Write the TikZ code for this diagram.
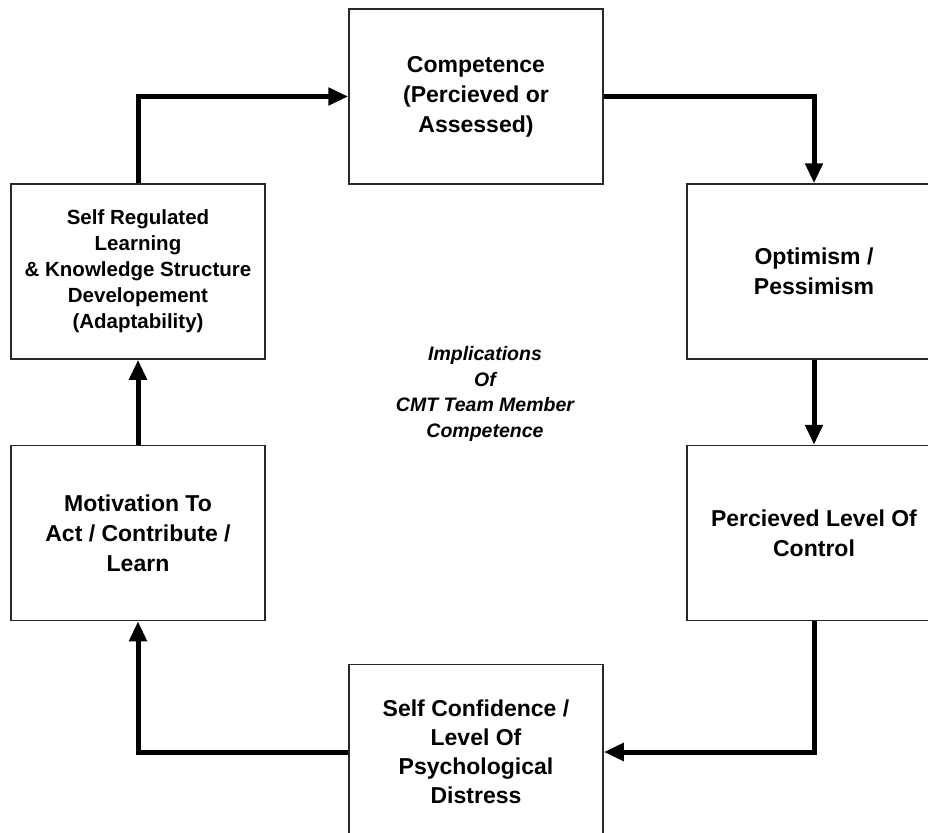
\documentclass[tikz,border=0pt]{standalone}
\usepackage{fontspec}
\setmainfont{Liberation Sans}
\usepackage{tikz}
\usetikzlibrary{arrows.meta, positioning}
\definecolor{boxline}{RGB}{40, 40, 40}

\tikzset{
  stagebox/.style={draw=boxline, line width=1.5pt, align=center,
    minimum width=254pt, minimum height=175pt, inner sep=0pt,
    font=\fontsize{23}{30}\selectfont\bfseries},
  loopflow/.style={line width=5pt, black,
    -{Triangle[length=20pt, width=17pt]}},
}

\begin{document}
\begin{tikzpicture}[x=1pt, y=-1pt]
  \useasboundingbox (0,0) rectangle (928,832);
  % cycle stages
  \node[stagebox] (comp) at (476,96.5) {Competence\\(Percieved or\\Assessed)};
  \node[stagebox] (opt) at (814,271.5) {Optimism /\\Pessimism};
  \node[stagebox] (ctrl) at (814,533) {Percieved Level Of\\Control};
  \node[stagebox, font=\fontsize{23}{29}\selectfont\bfseries] (conf) at (476,752) {Self Confidence /\\Level Of\\Psychological\\Distress};
  \node[stagebox] (motiv) at (138,533) {Motivation To\\Act / Contribute /\\Learn};
  \node[stagebox, font=\fontsize{20.5}{26}\selectfont\bfseries] (srl) at (138,271.5) {Self Regulated\\Learning\\\& Knowledge Structure\\Developement\\(Adaptability)};
  \node[align=center, font=\fontsize{19.5}{25.5}\selectfont\bfseries\itshape] (impl) at (485,394) {Implications\\Of\\CMT Team Member\\Competence};
  % connectors
  \draw[loopflow] (srl.north) |- (comp.west);
  \draw[loopflow] (comp.east) -| (opt.north);
  \draw[loopflow] (opt.south) -- (ctrl.north);
  \draw[loopflow] (ctrl.south) |- (conf.east);
  \draw[loopflow] (conf.west) -| (motiv.south);
  \draw[loopflow] (motiv.north) -- (srl.south);
\end{tikzpicture}
\end{document}
